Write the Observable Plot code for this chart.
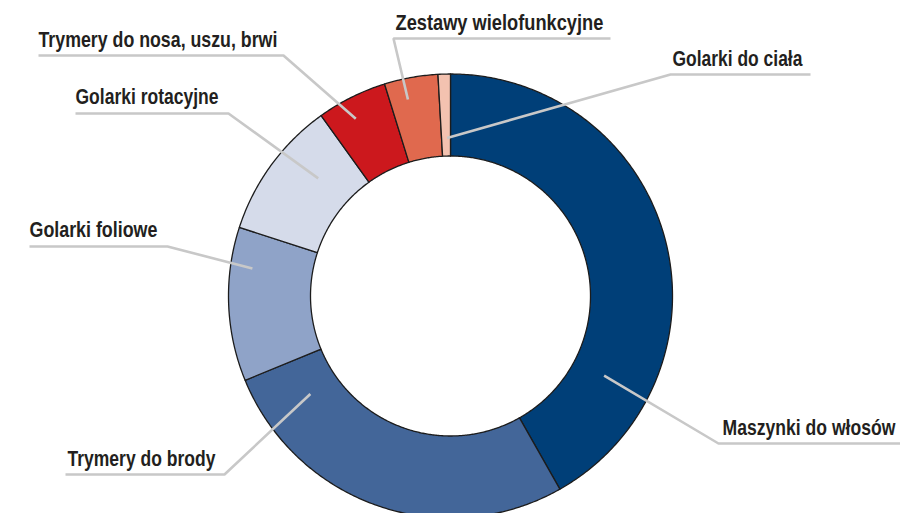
<!DOCTYPE html>
<html>
<head>
<meta charset="utf-8">
<script src="https://cdn.jsdelivr.net/npm/d3@7"></script>
<script src="https://cdn.jsdelivr.net/npm/@observablehq/plot@0.6"></script>
<style>
  html, body { margin: 0; padding: 0; background: #fff; }
  #chart svg { display: block; }
</style>
</head>
<body>
<div id="chart"></div>
<script>
// ---- data (shares in %, clockwise from 12 o'clock) ----
const categories = [
  "Maszynki do włosów",
  "Trymery do brody",
  "Golarki foliowe",
  "Golarki rotacyjne",
  "Trymery do nosa, uszu, brwi",
  "Zestawy wielofunkcyjne",
  "Golarki do ciała"
];
const shares = [41.8, 27.0, 11.2, 10.1, 5.1, 3.9, 0.9];
const colors = ["#003f78", "#436699", "#8fa3c8", "#d5dbea", "#cc181d", "#e0694e", "#f3c2b0"];

// ---- layout (label placement, text widths, leader tips as fraction of slice / radius in px) ----
const labelLayout = [
  {name: "Maszynki do włosów",          tx: 722, ty: 434, tw: 173, ux1: 718, ux2: 900, uy: 443, elbow: "start", frac: 0.78, r: 173},
  {name: "Trymery do brody",            tx: 67,  ty: 465, tw: 148, ux1: 65,  ux2: 224, uy: 474, elbow: "end",   frac: 0.87, r: 171},
  {name: "Golarki foliowe",             tx: 29,  ty: 236, tw: 128, ux1: 29,  ux2: 167, uy: 246, elbow: "end",   frac: 0.75, r: 200},
  {name: "Golarki rotacyjne",           tx: 75,  ty: 103, tw: 143, ux1: 75,  ux2: 228, uy: 113, elbow: "end",   frac: 0.65, r: 177},
  {name: "Trymery do nosa, uszu, brwi", tx: 38,  ty: 46,  tw: 239, ux1: 38,  ux2: 283, uy: 55,  elbow: "end",   frac: 0.41, r: 201},
  {name: "Zestawy wielofunkcyjne",      tx: 395, ty: 29,  tw: 208, ux1: 393, ux2: 610, uy: 38,  elbow: "start", frac: 0.36, r: 201},
  {name: "Golarki do ciała",            tx: 672, ty: 65,  tw: 130, ux1: 670, ux2: 810, uy: 74,  elbow: "start", frac: 0.62, r: 158}
];

const W = 900, H = 513;
const cx = 450, cy = 295.5, R = 222, r0 = 140;

// angles (degrees clockwise from top)
const total = d3.sum(shares);
let acc = 0;
const slices = categories.map((name, i) => {
  const a0 = acc / total * 360;
  acc += shares[i];
  const a1 = acc / total * 360;
  return {name, a0, a1};
});
const pt = (a, rad) => {
  const t = a * Math.PI / 180;
  return [cx + rad * Math.sin(t), cy - rad * Math.cos(t)];
};

// ring-slice polygons
const polyPts = [];
for (const s of slices) {
  const n = Math.max(4, Math.ceil((s.a1 - s.a0) / 0.5));
  const pts = [];
  for (let k = 0; k <= n; k++) pts.push(pt(s.a0 + (s.a1 - s.a0) * k / n, R));
  for (let k = n; k >= 0; k--) pts.push(pt(s.a0 + (s.a1 - s.a0) * k / n, r0));
  pts.push(pts[0]);
  pts.forEach(([x, y], j) => polyPts.push({name: s.name, x, y, j}));
}

// leader lines
const leaderPts = [];
for (const L of labelLayout) {
  const s = slices.find(d => d.name === L.name);
  const tip = pt(s.a0 + (s.a1 - s.a0) * L.frac, L.r);
  const far = L.elbow === "start" ? L.ux2 : L.ux1;
  const elbow = L.elbow === "start" ? L.ux1 : L.ux2;
  [[far, L.uy], [elbow, L.uy], tip].forEach(([x, y]) => leaderPts.push({name: L.name, x, y}));
}

const chart = Plot.plot({
  width: W,
  height: H,
  margin: 0,
  x: {domain: [0, W], range: [0, W], axis: null},
  y: {domain: [0, H], range: [0, H], axis: null},
  color: {domain: categories, range: colors},
  style: {background: "#fff"},
  marks: [
    Plot.line(polyPts, {x: "x", y: "y", z: "name", fill: "name", stroke: "#1c1c1c", strokeWidth: 1.3, curve: "linear"}),
    Plot.line(leaderPts, {x: "x", y: "y", z: "name", stroke: "#c8c8c8", strokeWidth: 2.6, strokeLinejoin: "miter", strokeLinecap: "butt"}),
    Plot.text(labelLayout, {
      x: "tx", y: "ty", text: "name",
      textAnchor: "start", lineAnchor: "bottom",
      fontFamily: "'Liberation Sans', Arial, sans-serif",
      fontWeight: "bold", fontSize: 22, fill: "#231f20",
      className: "lbl"
    })
  ]
});
document.getElementById("chart").append(chart);
// condense labels horizontally to the reference widths
chart.querySelectorAll("g.lbl text").forEach((t, i) => {
  const natural = t.getComputedTextLength();
  const sx = labelLayout[i].tw / natural;
  const tr = t.getAttribute("transform") || "";
  t.setAttribute("transform", `${tr} scale(${sx.toFixed(4)},1)`);
});
</script>
</body>
</html>
